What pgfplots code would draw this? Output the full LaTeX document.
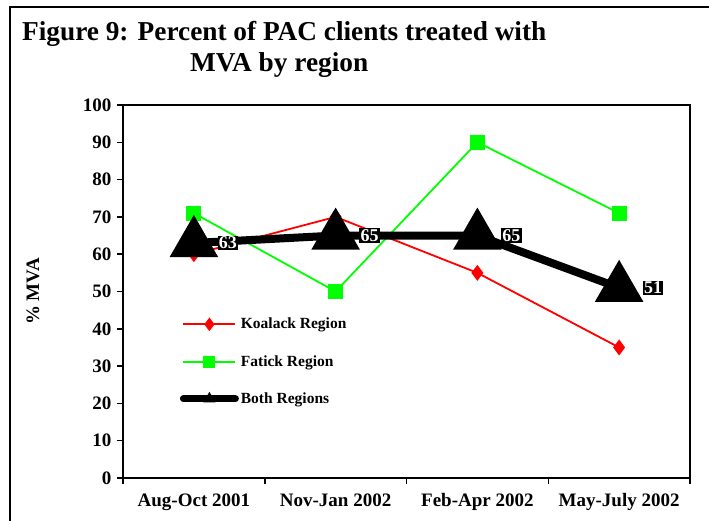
\documentclass[border=0pt]{standalone}
\usepackage{pgfplots}
\pgfplotsset{compat=1.18}
\usepackage{fontspec}
\setmainfont{Liberation Serif}
\definecolor{kred}{RGB}{255,0,0}
\definecolor{fgreen}{RGB}{0,255,0}
\begin{document}
\begin{tikzpicture}
\path[use as bounding box] (0pt,0pt) rectangle (709pt,-521pt);
\draw[line width=1.6pt] (10pt,-521pt) -- (10pt,-7pt) -- (709pt,-7pt);
\node[anchor=base west, font=\fontsize{27.3}{30}\selectfont\bfseries, inner sep=0pt] at (22pt,-41pt) {Figure 9: Percent of PAC clients treated with};
\node[anchor=base west, font=\fontsize{27.3}{30}\selectfont\bfseries, inner sep=0pt] at (190pt,-72pt) {MVA by region};
\begin{axis}[
  at={(123pt,-478pt)}, anchor=south west,
  scale only axis, width=567pt, height=373pt,
  xmin=0.5, xmax=4.5, ymin=0, ymax=100,
  ytick={0,10,...,100},
  xtick={0.5,1.5,2.5,3.5,4.5}, xticklabels={},
  extra x ticks={1,2,3,4},
  extra x tick labels={Aug-Oct 2001,Nov-Jan 2002,Feb-Apr 2002,May-July 2002},
  extra x tick style={major tick length=0pt, tick style={draw=none}},
  xtick pos=bottom, ytick pos=left,
  tick align=outside, major tick length=6pt,
  tick style={black, line width=1.5pt},
  axis line style={line width=2.2pt},
  ticklabel style={font=\fontsize{19}{21}\selectfont\bfseries},
  /pgf/number format/assume math mode=true,
  xticklabel style={yshift=-12pt},
  yticklabel style={xshift=-2pt},
  ylabel={\% MVA},
  ylabel style={font=\fontsize{19}{21}\selectfont\bfseries, at={(axis description cs:-0.159,0.5)}, anchor=center},
  legend style={draw=none, fill=none, at={(0.1,0.19)}, anchor=south west,
    font=\fontsize{15.5}{17}\selectfont\bfseries, row sep=21pt,
    legend cell align=left, inner sep=0pt},
  legend image code/.code={\draw[#1, mark=none] (0pt,0pt) -- (52pt,0pt);
     \draw[#1] plot coordinates {(26pt,0pt)};},
  clip=false,
]
\addlegendimage{kred, line width=2pt, mark=diamond*, mark size=6pt, mark options={fill=kred, line width=1pt}}
\addlegendimage{fgreen, line width=2pt, mark=square*, mark size=5.5pt, mark options={fill=fgreen, line width=1pt}}
\addlegendimage{black, line width=7pt, line cap=round, mark=triangle*, mark size=6pt, mark options={line width=1pt}}
\addplot[forget plot, kred, line width=1.8pt, mark=diamond*, mark size=6.5pt, mark options={fill=kred}]
  coordinates {(1,60) (2,70) (3,55) (4,35)};
\addplot[forget plot, fgreen, line width=1.8pt, mark=square*, mark size=6.5pt, mark options={fill=fgreen}]
  coordinates {(1,71) (2,50) (3,90) (4,71)};
\addplot[forget plot, black, line width=8pt, mark=triangle*, mark size=20pt,
  nodes near coords={\fontsize{18}{20}\selectfont\bfseries\pgfplotspointmeta},
  point meta=explicit symbolic,
  every node near coord/.append style={fill=black, text=white,
    anchor=center, xshift=34pt, yshift=0pt, inner sep=1.2pt}]
  coordinates {(1,63) [63] (2,65) [65] (3,65) [65] (4,51) [51]};
\legend{Koalack Region, Fatick Region, Both Regions}
\end{axis}
\end{tikzpicture}
\end{document}
